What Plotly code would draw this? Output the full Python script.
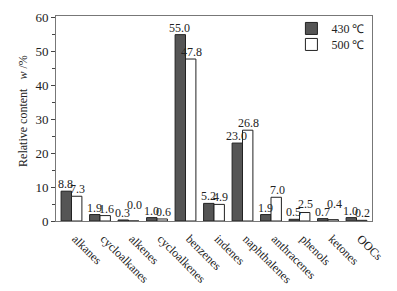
import plotly.graph_objects as go

categories = ["alkanes", "cycloalkanes", "alkenes", "cycloalkenes", "benzenes", "indenes",
              "naphthalenes", "anthracenes", "phenols", "ketones", "OOCs"]
v430 = [8.8, 1.9, 0.3, 1.0, 55.0, 5.2, 23.0, 1.9, 0.5, 0.7, 1.0]
v500 = [7.3, 1.6, 0.0, 0.6, 47.8, 4.9, 26.8, 7.0, 2.5, 0.4, 0.2]

font = "Liberation Serif, Times New Roman, serif"

fig = go.Figure()
fig.add_bar(x=categories, y=v430, name="430 ℃", legend="legend",
            marker=dict(color="#555555", line=dict(color="#222222", width=1)))
fig.add_bar(x=categories, y=v500, name="500 ℃", legend="legend2",
            marker=dict(color="white", line=dict(color="#222222", width=1)))

# small vertical lifts for crowded labels (as in the reference)
lift500 = {"alkenes": 9, "ketones": 9, "phenols": 2}
for cat, a, b in zip(categories, v430, v500):
    fig.add_annotation(x=cat, y=a, text=f"{a:.1f}", showarrow=False, xshift=-6,
                       yanchor="bottom", yshift=-2,
                       font=dict(family=font, size=12, color="#222"))
    fig.add_annotation(x=cat, y=b, text=f"{b:.1f}", showarrow=False, xshift=6,
                       yanchor="bottom", yshift=-2 + lift500.get(cat, 0),
                       font=dict(family=font, size=12, color="#222"))

fig.add_annotation(xref="paper", yref="paper", x=0, y=0.537, xshift=-33,
                   xanchor="center", yanchor="middle",
                   text="Relative content&nbsp;&nbsp;&nbsp;<i>w</i> /%", textangle=-90,
                   showarrow=False, font=dict(family=font, size=12, color="#222"))

leg = dict(xanchor="left", yanchor="top", bgcolor="rgba(0,0,0,0)",
           font=dict(family=font, size=12), itemwidth=30)
fig.update_layout(
    width=389, height=283,
    margin=dict(l=48, r=25, t=8, b=70, autoexpand=False),
    paper_bgcolor="white", plot_bgcolor="white",
    font=dict(family=font, size=12, color="#222"),
    barmode="group", bargap=0.27, bargroupgap=0.0,
    legend=dict(x=0.745, y=1.01, **leg),
    legend2=dict(x=0.745, y=0.932, **leg),
    showlegend=True,
)
fig.update_xaxes(showline=True, linecolor="#777", mirror=True, ticks="",
                 tickangle=45, tickfont=dict(family=font, size=12), showgrid=False,
                 automargin=False, ticklabelstandoff=5, ticklabelshift=4)
fig.update_yaxes(range=[0, 60.5], showline=True, linecolor="#777", mirror=True,
                 ticks="outside", ticklen=4, tickcolor="#444", dtick=10,
                 minor=dict(ticks="outside", ticklen=3, dtick=5, tickcolor="#444"),
                 showgrid=False, zeroline=False, automargin=False,
                 tickfont=dict(family=font, size=13))

fig.write_html("out.html")
